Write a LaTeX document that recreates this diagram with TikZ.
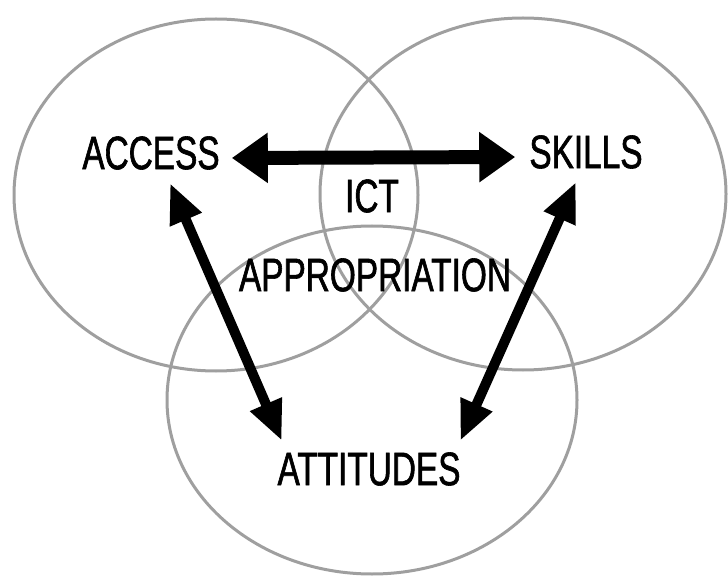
\documentclass[tikz,border=0pt]{standalone}
\usepackage{fontspec}
\setmainfont{Liberation Sans}
\newfontfamily\capsfont{Liberation Sans}[FakeStretch=0.71, FakeBold=1.3]
\usetikzlibrary{arrows.meta}

\tikzset{
  ring/.style={draw=gray!75, line width=3pt},
  term/.style={font=\capsfont\fontsize{47}{50}\selectfont, inner sep=4pt},
  link/.style={line width=10pt, {Triangle[length=40pt,width=32pt]}-{Triangle[length=40pt,width=32pt]}},
  mainlink/.style={line width=14pt, {Triangle[length=36pt,width=48pt]}-{Triangle[length=36pt,width=48pt]}}
}

\begin{document}
\begin{tikzpicture}[x=1pt, y=1pt]
    \useasboundingbox (0,0) rectangle (728,579);
    % the three overlapping ellipses
    \draw[ring] (216,384) ellipse [x radius=202, y radius=176];
    \draw[ring] (523,385) ellipse [x radius=203, y radius=176];
    \draw[ring] (372,179) ellipse [x radius=205, y radius=174];

    \node[term] (access)    at (151,426) {ACCESS};
    \node[term] (skills)    at (586,427) {SKILLS};
    \node[term] (ict)       at (372,383) {ICT};
    \node[term] (approp)    at (375,304) {APPROPRIATION};
    \node[term] (attitudes) at (369,110) {ATTITUDES};

    % links between the three corners
    \draw[mainlink, shorten <=8pt, shorten >=10pt] ([yshift=-5pt]access.east) -- ([yshift=-5pt]skills.west);
    \draw[link, shorten <=10pt, shorten >=8pt] ([xshift=15pt]access.south) -- ([xshift=-84pt]attitudes.north);
    \draw[link, shorten <=10pt, shorten >=8pt] ([xshift=-6pt]skills.south) -- ([xshift=88pt]attitudes.north);
\end{tikzpicture}
\end{document}
